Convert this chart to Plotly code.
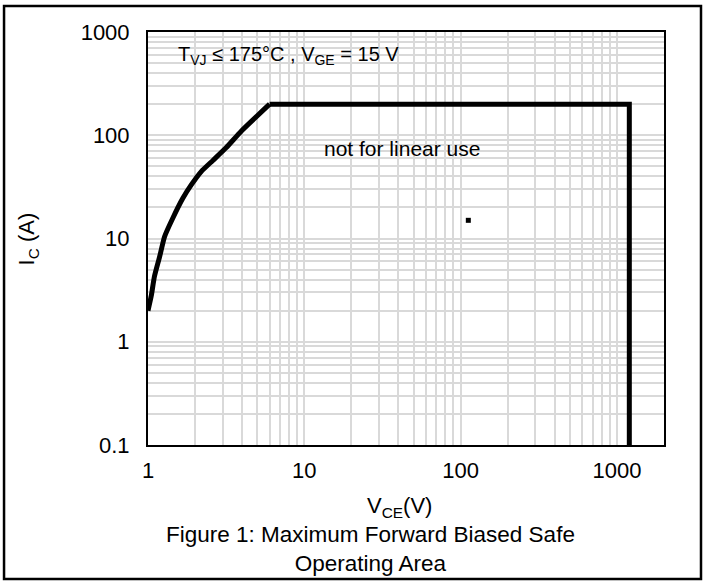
import plotly.graph_objects as go

# Data
vce = [1.0, 1.05, 1.10, 1.185, 1.276, 1.44, 1.67, 1.89, 2.19, 2.60, 3.17, 3.96, 6.0, 1200, 1200]
ic = [2.0, 2.8, 4.3, 6.6, 10.4, 15.7, 24.5, 33.0, 44.5, 57.0, 76.0, 110.0, 200.0, 200.0, 0.1]
dot_v = [112]
dot_i = [15]
x_ticks = [1, 10, 100, 1000]
x_tick_text = ["1", "10", "100", "1000"]
y_ticks = [0.1, 1, 10, 100, 1000]
y_tick_text = ["0.1", "1", "10", "100", "1000"]

FONT = "Liberation Sans, Arial, sans-serif"
GRID = "#d9d9d9"
knee = vce.index(6.0)

fig = go.Figure()
# curved rise (smooth) up to the knee
fig.add_trace(go.Scatter(x=vce[:knee + 1], y=ic[:knee + 1], mode="lines",
                         line=dict(color="black", width=5, shape="spline", smoothing=0.5),
                         hoverinfo="skip", showlegend=False))
# flat limit and voltage limit (straight)
fig.add_trace(go.Scatter(x=vce[knee:], y=ic[knee:], mode="lines",
                         line=dict(color="black", width=5),
                         hoverinfo="skip", showlegend=False))
fig.add_trace(go.Scatter(x=dot_v, y=dot_i, mode="markers",
                         marker=dict(symbol="square", size=5, color="black"),
                         hoverinfo="skip", showlegend=False))

fig.update_xaxes(type="log", range=[0, 3.30103],
                 tickvals=x_ticks, ticktext=x_tick_text,
                 showgrid=True, gridcolor=GRID, gridwidth=2,
                 minor=dict(dtick="D1", showgrid=True, gridcolor=GRID, gridwidth=2, ticks=""),
                 showline=True, linecolor="black", linewidth=2, mirror=True,
                 ticks="outside", ticklen=5, tickcolor="rgba(0,0,0,0)",
                 tickfont=dict(family=FONT, size=22, color="black"),
                 zeroline=False)
fig.update_yaxes(type="log", range=[-1, 3],
                 tickvals=y_ticks, ticktext=y_tick_text,
                 showgrid=True, gridcolor=GRID, gridwidth=2,
                 minor=dict(dtick="D1", showgrid=True, gridcolor=GRID, gridwidth=2, ticks=""),
                 showline=True, linecolor="black", linewidth=2, mirror=True,
                 ticks="outside", ticklen=12, tickcolor="rgba(0,0,0,0)",
                 tickfont=dict(family=FONT, size=22, color="black"),
                 zeroline=False)

ann = []
ann.append(dict(text="T<sub>VJ</sub> ≤ 175°C , V<sub>GE</sub> = 15 V", xref="paper", yref="paper",
                x=0.054, y=0.944, xanchor="left", yanchor="middle", showarrow=False,
                font=dict(family=FONT, size=20, color="black")))
ann.append(dict(text="not for linear use", xref="paper", yref="paper",
                x=0.492, y=0.717, xanchor="center", yanchor="middle", showarrow=False,
                font=dict(family=FONT, size=21, color="black")))
ann.append(dict(text="I<sub>C</sub> (A)", xref="paper", yref="paper",
                x=-0.2326, y=0.5, xanchor="center", yanchor="middle", textangle=-90,
                showarrow=False, font=dict(family=FONT, size=22, color="black")))
ann.append(dict(text="V<sub>CE</sub>(V)", xref="paper", yref="paper",
                x=0.487, y=-0.150, xanchor="center", yanchor="middle",
                showarrow=False, font=dict(family=FONT, size=22, color="black")))
ann.append(dict(text="Figure 1: Maximum Forward Biased Safe<br>Operating Area", xref="paper", yref="paper",
                x=0.432, y=-0.252, xanchor="center", yanchor="middle",
                showarrow=False, font=dict(family=FONT, size=22.5, color="black")))

fig.update_layout(width=706, height=582, margin=dict(l=148, r=42, t=32, b=137),
                  paper_bgcolor="white", plot_bgcolor="white", annotations=ann,
                  shapes=[dict(type="rect", xref="paper", yref="paper",
                               x0=-0.279, x1=1.0717, y0=-0.3245, y1=1.063,
                               line=dict(color="black", width=2.5))])
fig.write_html("out.html")
